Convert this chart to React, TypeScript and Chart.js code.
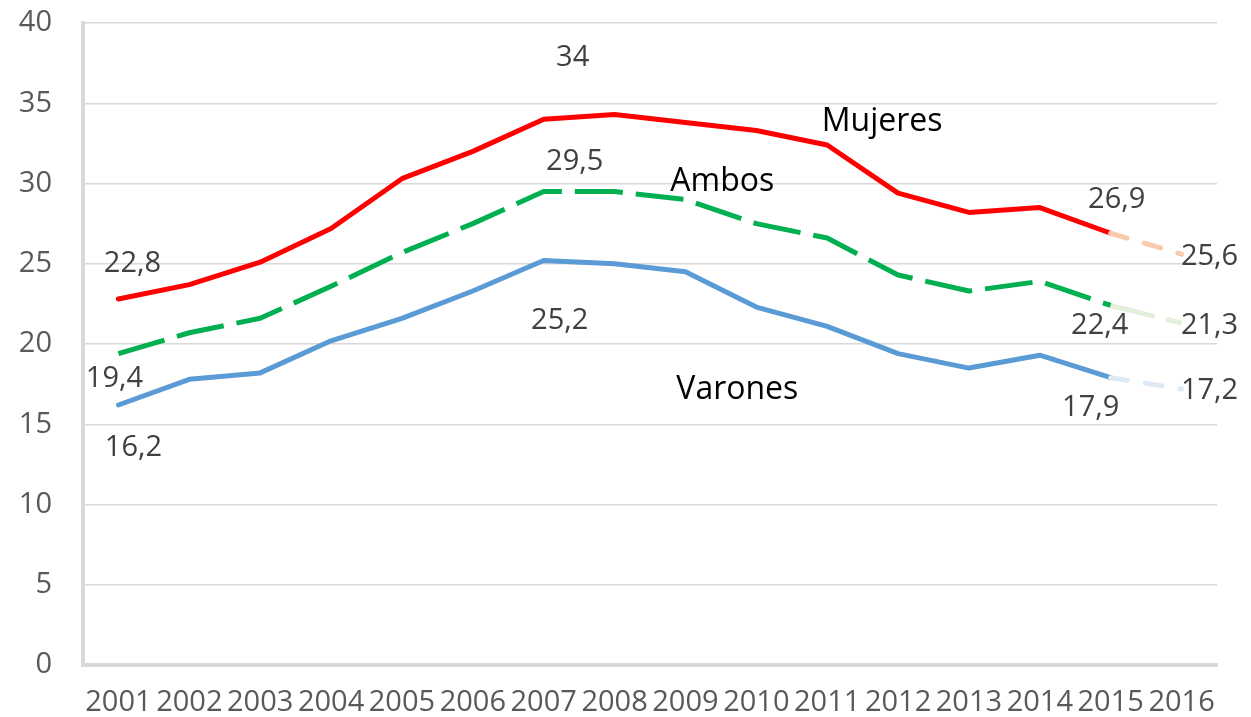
import React, { useEffect, useRef } from "react";
import { Chart, registerables } from "chart.js";

Chart.register(...registerables);

const years = ["2001","2002","2003","2004","2005","2006","2007","2008","2009","2010","2011","2012","2013","2014","2015","2016"];
const mujeres = [22.8, 23.7, 25.1, 27.2, 30.3, 32.0, 34.0, 34.3, 33.8, 33.3, 32.4, 29.4, 28.2, 28.5, 26.9, 25.6];
const ambos = [19.4, 20.7, 21.6, 23.6, 25.7, 27.5, 29.5, 29.5, 29.0, 27.5, 26.6, 24.3, 23.3, 23.9, 22.4, 21.3];
const varones = [16.2, 17.8, 18.2, 20.2, 21.6, 23.3, 25.2, 25.0, 24.5, 22.3, 21.1, 19.4, 18.5, 19.3, 17.9, 17.2];
const yTicks = [0, 5, 10, 15, 20, 25, 30, 35, 40];

// value labels: index and pixel offset from the point
const mujeresLabels = [{ i: 0, dx: 14, dy: -35 }, { i: 6, dx: 29, dy: -62 }, { i: 14, dx: 6, dy: -34 }, { i: 15, dx: 28, dy: 3 }];
const ambosLabels = [{ i: 0, dx: -4, dy: 25 }, { i: 6, dx: 31, dy: -30 }, { i: 14, dx: -11, dy: 20 }, { i: 15, dx: 28, dy: 3 }];
const varonesLabels = [{ i: 0, dx: 15, dy: 43 }, { i: 6, dx: 16, dy: 60 }, { i: 14, dx: -20, dy: 30 }, { i: 15, dx: 28, dy: 2 }];
// series name labels
const seriesNames = [
  { ds: 0, name: "Mujeres", i: 10, dx: 55, dy: -23 },
  { ds: 1, name: "Ambos", i: 9, dx: -34, dy: -42 },
  { ds: 2, name: "Varones", i: 9, dx: -19, dy: 83 },
];

const FONT = "'Open Sans', 'Noto Sans', sans-serif";

function fmt(v: number) {
  return Number.isInteger(v) ? String(v) : v.toFixed(1).replace(".", ",");
}

const labelPlugin = {
  id: "customLabels",
  afterDatasetsDraw(chart: any) {
    const ctx = chart.ctx;
    const specs = [mujeresLabels, ambosLabels, varonesLabels];
    ctx.save();
    ctx.textAlign = "center";
    ctx.textBaseline = "middle";
    ctx.fillStyle = "#404040";
    ctx.font = `29px ${FONT}`;
    specs.forEach((list, d) => {
      const meta = chart.getDatasetMeta(d);
      const data = chart.data.datasets[d].data as number[];
      list.forEach((s) => {
        const p = meta.data[s.i];
        ctx.fillText(fmt(data[s.i]), p.x + s.dx, p.y + s.dy);
      });
    });
    ctx.fillStyle = "#000000";
    ctx.font = `32px ${FONT}`;
    seriesNames.forEach((s) => {
      const p = chart.getDatasetMeta(s.ds).data[s.i];
      ctx.fillText(s.name, p.x + s.dx, p.y + s.dy);
    });
    ctx.restore();
  },
};

export default function App() {
  const ref = useRef<HTMLCanvasElement>(null);
  useEffect(() => {
    document.body.style.margin = "0";
    const last = years.length - 2;
    const mk = (label: string, data: number[], color: string, light: string, dash: number[], lightDash: number[], cap: any) => ({
      label,
      data,
      borderColor: color,
      backgroundColor: color,
      borderWidth: 5,
      borderDash: dash,
      borderCapStyle: cap,
      borderJoinStyle: "round",
      pointRadius: 0,
      tension: 0,
      segment: {
        borderColor: (c: any) => (c.p0DataIndex === last ? light : undefined),
        borderDash: (c: any) => (c.p0DataIndex === last ? lightDash : undefined),
      },
    });
    const chart = new Chart(ref.current!, {
      type: "line",
      data: {
        labels: years,
        datasets: [
          mk("Mujeres", mujeres, "#FF0000", "#F8CBAD", [], [17, 18], "round"),
          mk("Ambos", ambos, "#00B050", "#E2F0D9", [48, 13], [45, 12], "butt"),
          mk("Varones", varones, "#5B9BD5", "#DEEBF7", [], [17, 18], "round"),
        ] as any,
      },
      options: {
        animation: false,
        responsive: false,
        maintainAspectRatio: false,
        layout: { padding: { top: 23, right: 34, left: 0, bottom: 0 } },
        plugins: { legend: { display: false }, tooltip: { enabled: false } },
        scales: {
          x: {
            offset: true,
            grid: { display: false, drawTicks: false },
            border: { color: "#D9D9D9", width: 4 },
            ticks: {
              autoSkip: false,
              maxRotation: 0,
              minRotation: 0,
              padding: 20,
              color: "#595959",
              font: { family: FONT, size: 29 },
            },
            afterFit: (s: any) => { s.height = 52; s.paddingLeft = 0; s.paddingRight = 0; },
          },
          y: {
            min: 0,
            max: 40,
            afterBuildTicks: (s: any) => { s.ticks = yTicks.map((v) => ({ value: v })); },
            grid: { color: "#D9D9D9", lineWidth: 1.5, drawTicks: false },
            border: { color: "#D9D9D9", width: 4 },
            ticks: {
              padding: 31,
              color: "#595959",
              font: { family: FONT, size: 29 },
            },
            afterFit: (s: any) => { s.width = 83; s.paddingTop = 0; s.paddingBottom = 0; },
          },
        },
      },
      plugins: [labelPlugin],
    });
    return () => chart.destroy();
  }, []);
  return (
    <div style={{ position: "fixed", left: 0, top: 0, width: 1251, height: 717, background: "#fff" }}>
      <canvas ref={ref} width={1251} height={717} style={{ width: 1251, height: 717 }} />
    </div>
  );
}
